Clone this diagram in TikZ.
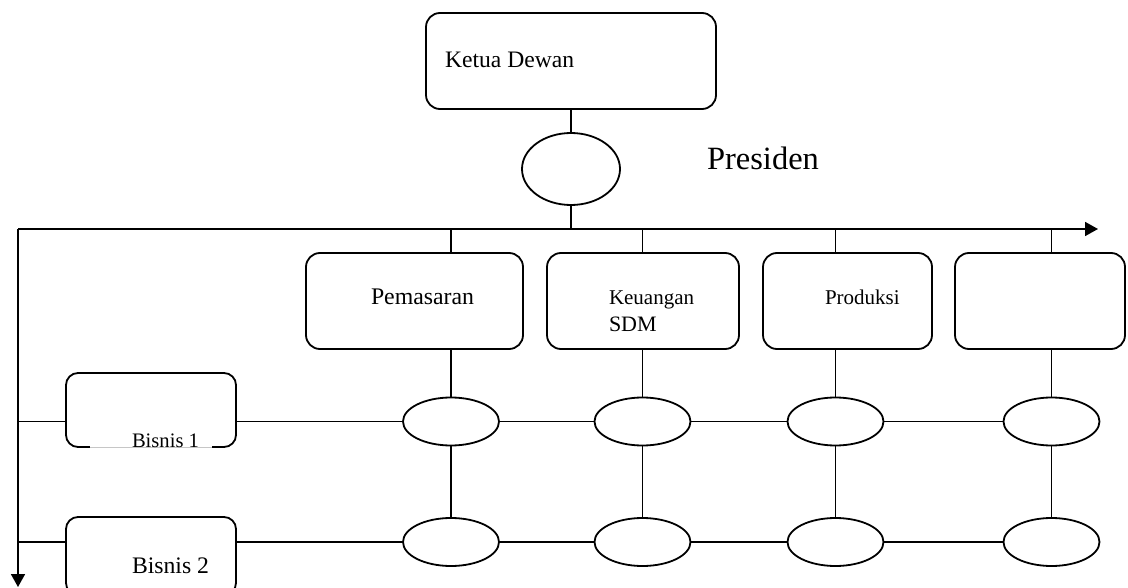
\documentclass[tikz,border=0pt]{standalone}
\usepackage{fontspec}
\setmainfont{Liberation Serif}
\usetikzlibrary{arrows.meta,shapes.geometric}
\begin{document}
\begin{tikzpicture}[x=1pt,y=-1pt,line width=1.8pt,
  rbox/.style={draw, rectangle, rounded corners=14pt, inner sep=0pt, outer sep=0pt},
  oval/.style={draw, ellipse, inner sep=0pt, outer sep=0pt, minimum width=96pt, minimum height=48pt},
  lbl/.style={anchor=base west, inner sep=0pt, outer sep=0pt},
  arr/.style={-{Triangle[length=13pt,width=14pt]}}]
\useasboundingbox (0,0) rectangle (1128,588);
\clip (0,0) rectangle (1128,588);
% top
\node[rbox, minimum width=290pt, minimum height=96pt] (ketua) at (571,61) {};
\node[lbl, font=\fontsize{23.6}{28}\selectfont] (tketua) at (445,68) {Ketua Dewan};
\node[draw, ellipse, inner sep=0pt, outer sep=0pt, minimum width=98pt, minimum height=72pt] (pres) at (571,169) {};
\node[lbl, font=\fontsize{32.5}{38}\selectfont] (tpres) at (707,170) {Presiden};
\coordinate (hl) at (571,229);
\coordinate (hL) at (18,229);
\coordinate (hR) at (1098,229);
\coordinate (vB) at (18,587);
\draw (ketua.south) -- (pres.north);
\draw (pres.south) -- (hl);
\draw[arr] (hL) -- (hR);
\draw[arr] (hL) -- (vB);
% department boxes
\node[rbox, minimum width=217pt, minimum height=96pt] (d1) at (414.5,301) {};
\node[rbox, minimum width=192pt, minimum height=96pt] (d2) at (643,301) {};
\node[rbox, minimum width=169pt, minimum height=96pt] (d3) at (847.5,301) {};
\node[rbox, minimum width=170pt, minimum height=96pt] (d4) at (1040,301) {};
\node[lbl, font=\fontsize{23.8}{28}\selectfont] (t1) at (371,305) {Pemasaran};
\node[lbl, font=\fontsize{21}{26}\selectfont] (t2a) at (609,305) {Keuangan};
\node[lbl, font=\fontsize{22}{26}\selectfont] (t2b) at (609,331) {SDM};
\node[lbl, font=\fontsize{21}{26}\selectfont] (t3) at (825,305) {Produksi};
% business boxes
\node[rbox, rounded corners=12pt, minimum width=170pt, minimum height=74pt] (b1) at (151,410) {};
\node[rbox, rounded corners=12pt, minimum width=170pt, minimum height=78pt] (b2) at (151,556) {};
\fill[white] (90,438) rectangle (212,452);
\draw[gray!45, line width=0.6pt] (90,447) -- (212,447);
\node[lbl, font=\fontsize{20.6}{25}\selectfont] (tb1) at (132,447) {Bisnis 1};
\node[lbl, font=\fontsize{23.7}{28}\selectfont] (tb2) at (132,573) {Bisnis 2};
% ellipses
\foreach \i/\x in {1/451,2/642.5,3/835.5,4/1051.5}{
  \node[oval] (ea\i) at (\x,421.5) {};
  \node[oval] (eb\i) at (\x,542) {};
}
% column connectors
\foreach \i in {1,2,3,4}{
  \draw (ea\i.north) -- (ea\i.north |- d\i.south);
  \draw (ea\i.north |- d\i.north) -- (ea\i.north |- hL);
  \draw (ea\i.south) -- (eb\i.north);
}
% row connectors
\draw (hL |- ea1.west) -- (b1.west |- ea1.west);
\draw (b1.east |- ea1.west) -- (ea1.west);
\draw (hL |- eb1.west) -- (b2.west |- eb1.west);
\draw (b2.east |- eb1.west) -- (eb1.west);
\foreach \a/\b in {1/2,2/3,3/4}{
  \draw (ea\a.east) -- (ea\b.west);
  \draw (eb\a.east) -- (eb\b.west);
}
\end{tikzpicture}
\end{document}
